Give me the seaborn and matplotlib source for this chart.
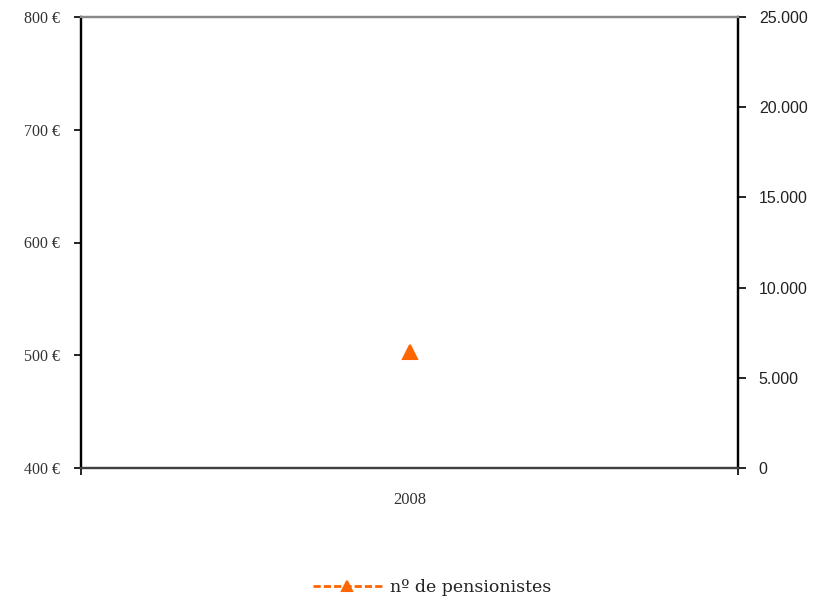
import matplotlib
matplotlib.use("Agg")
import matplotlib.pyplot as plt
import seaborn as sns
import pandas as pd
from matplotlib.ticker import FuncFormatter

years = ["2008"]
pensioners = [6450]
series_label = "nº de pensionistes"
euro_ticks = [400, 500, 600, 700, 800]
count_ticks = [0, 5000, 10000, 15000, 20000, 25000]

sns.set_theme(style="white")
plt.rcParams["font.family"] = ["Liberation Serif", "DejaVu Sans"]

fig = plt.figure(figsize=(8.19, 6.0), dpi=100)
ax = fig.add_axes([81/819, 1-468/600, (738-81)/819, (468-17)/600])
ax2 = ax.twinx()

df = pd.DataFrame({"year": years, "n": pensioners})
sns.pointplot(data=df, x="year", y="n", ax=ax2, color="#FF6600",
              markers="^", linestyles=(0, (2.6, 1.1)), label=series_label,
              markersize=10, linewidth=2)

ax.set_xlim(-0.5, 0.5)
ax.set_ylim(400, 800)
ax.set_yticks(euro_ticks)
ax.yaxis.set_major_formatter(FuncFormatter(lambda v, p: f"{int(v)} €"))
ax2.set_ylim(0, 25000)
ax2.set_yticks(count_ticks)
ax2.yaxis.set_major_formatter(FuncFormatter(lambda v, p: f"{int(v):,}".replace(",", ".")))
ax.set_xticks([-0.5, 0.5])
ax.set_xticklabels([])
ax2.set_xlabel("")
ax2.set_ylabel("")
ax.set_xlabel("")
ax.set_ylabel("")
ax.text(0, -0.071, years[0], transform=ax.get_xaxis_transform(), ha="center",
        va="center", fontsize=12, family=["Liberation Serif"], color="#333333")

for a in (ax, ax2):
    a.spines["top"].set_color("#888888")
    a.spines["bottom"].set_color("#404040")
    a.spines["left"].set_color("black")
    a.spines["right"].set_color("black")
    for s in a.spines.values():
        s.set_linewidth(1.6)

ax.tick_params(axis="y", which="both", left=True, length=5, width=1.2,
               labelsize=11.5, colors="black", labelcolor="#333333", pad=10)
ax.tick_params(axis="x", bottom=True, length=5, width=1.2, colors="black")
ax2.tick_params(axis="y", right=True, length=6, width=1.2, labelsize=11.5,
                colors="black", labelcolor="#222222", pad=9)
for lab in ax2.get_yticklabels():
    lab.set_family(["Liberation Sans"])
ax2.grid(False)
ax.grid(False)

leg = ax2.legend(loc="center", bbox_to_anchor=(432/819, 12/600), bbox_transform=fig.transFigure,
                 frameon=False, handlelength=4.0, handletextpad=0.45,
                 prop={"family": ["DejaVu Serif"], "size": 12.5})
for h in leg.legend_handles:
    h.set_markersize(7)
for t in leg.get_texts():
    t.set_color("#222222")

fig.savefig("out.png", dpi=100)
